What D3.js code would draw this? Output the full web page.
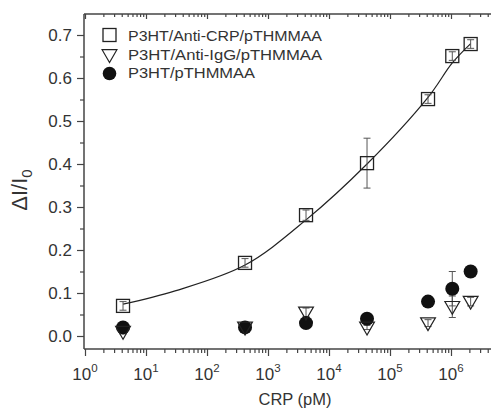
<!DOCTYPE html>
<html><head><meta charset="utf-8">
<script src="https://cdn.jsdelivr.net/npm/d3@7"></script>
<style>body{margin:0;background:#fff}svg{display:block}text{font-family:"Liberation Sans",Arial,sans-serif;fill:#333}</style>
</head><body><svg id="c" width="491" height="411"></svg>
<script>
const conc = [4.2, 420, 4200, 42000, 420000, 1.05e6, 2.1e6];
const antiCRP = [0.070, 0.170, 0.281, 0.402, 0.551, 0.651, 0.679];
const antiCRPErr = [0.010, 0.010, 0.012, 0.058, 0.010, 0.010, 0.010];
const antiIgG = [0.010, 0.020, 0.055, 0.020, 0.030, 0.068, 0.080];
const antiIgGErr = [0.005, 0.005, 0.010, 0.005, 0.008, 0.025, 0.010];
const plain = [0.020, 0.020, 0.030, 0.040, 0.080, 0.110, 0.150];
const plainErr = [0.004, 0.004, 0.004, 0.004, 0.006, 0.040, 0.012];
const fitX = [4.2, 30, 420, 4200, 42000, 420000, 1.05e6, 2.1e6];
const fitY = [0.074, 0.105, 0.165, 0.270, 0.400, 0.555, 0.635, 0.680];
const yTicks = [0.0, 0.1, 0.2, 0.3, 0.4, 0.5, 0.6, 0.7];
const xExponents = [0, 1, 2, 3, 4, 5, 6, 7];
const xLabelExponents = [0, 1, 2, 3, 4, 5, 6];
const legendLabels = ["P3HT/Anti-CRP/pTHMMAA", "P3HT/Anti-IgG/pTHMMAA", "P3HT/pTHMMAA"];

const svg = d3.select("#c");
const L = 84, T = 14, B = 349, R = 491;
const x = d3.scaleLog().domain([1, 1e7]).range([85, 85 + 61 * 7]);
const y = d3.scaleLinear().domain([0, 0.7]).range([336, 35]);
const axisCol = "#444";

svg.append("line").attr("x1", L).attr("x2", L).attr("y1", T).attr("y2", B).attr("stroke", axisCol).attr("stroke-width", 1.5);
svg.append("line").attr("x1", L).attr("x2", R).attr("y1", B).attr("y2", B).attr("stroke", axisCol).attr("stroke-width", 1.5);
svg.append("line").attr("x1", L).attr("x2", R).attr("y1", T).attr("y2", T).attr("stroke", axisCol).attr("stroke-width", 1.5);

const yMinor = d3.range(0, 0.75, 0.05).filter(v => Math.abs(v * 10 - Math.round(v * 10)) > 0.01);
const gy = svg.append("g").attr("transform", `translate(${L},0)`)
  .call(d3.axisLeft(y).tickValues(yTicks).tickSize(7).tickFormat(d3.format(".1f")));
gy.select(".domain").remove();
gy.selectAll("line").attr("stroke", axisCol).attr("stroke-width", 1.2);
gy.selectAll("text").attr("font-size", 17).attr("fill", "#333").attr("dx", -2);
const gym = svg.append("g").attr("transform", `translate(${L},0)`)
  .call(d3.axisLeft(y).tickValues(yMinor).tickSize(4).tickFormat(""));
gym.select(".domain").remove();
gym.selectAll("line").attr("stroke", axisCol).attr("stroke-width", 1.2);

const majors = xExponents.map(e => Math.pow(10, e));
const minors = [];
xExponents.forEach(e => { for (let k = 2; k <= 9; k++) minors.push(k * Math.pow(10, e)); });
function xTicks(yPos, vals, size) {
  const g = svg.append("g").attr("transform", `translate(0,${yPos})`)
    .call(d3.axisBottom(x).tickValues(vals).tickSize(size).tickFormat(""));
  g.select(".domain").remove();
  g.selectAll("line").attr("stroke", axisCol).attr("stroke-width", 1.2);
}
xTicks(B, majors, 7);
xTicks(B, minors, 4);
xTicks(T, majors, 5);
xTicks(T, minors, 3);

xLabelExponents.forEach(e => {
  const t = svg.append("text").attr("x", x(Math.pow(10, e))).attr("y", 380).attr("text-anchor", "middle").attr("font-size", 17);
  t.append("tspan").text("10");
  t.append("tspan").attr("dy", -8).attr("font-size", 11.5).text(e);
});

svg.append("text").attr("x", 295).attr("y", 405).attr("text-anchor", "middle").attr("font-size", 16.5).text("CRP (pM)");
const yl = svg.append("text").attr("transform", "translate(27,190) rotate(-90)").attr("text-anchor", "middle").attr("font-size", 22);
yl.append("tspan").text("ΔI/I");
yl.append("tspan").attr("dy", 5).attr("font-size", 15).text("0");

const pts = fitX.map((v, i) => [x(v), y(fitY[i])]);
svg.append("path").attr("d", d3.line().curve(d3.curveCatmullRom.alpha(0.5))(pts))
  .attr("fill", "none").attr("stroke", "#222").attr("stroke-width", 1.2);

function errBars(vals, errs) {
  conc.forEach((c, i) => {
    const cx = x(c), y1 = y(vals[i] + errs[i]), y2 = y(vals[i] - errs[i]);
    svg.append("line").attr("x1", cx).attr("x2", cx).attr("y1", y1).attr("y2", y2).attr("stroke", "#555").attr("stroke-width", 1);
    [y1, y2].forEach(yy => svg.append("line").attr("x1", cx - 3.5).attr("x2", cx + 3.5).attr("y1", yy).attr("y2", yy).attr("stroke", "#555").attr("stroke-width", 1));
  });
}
errBars(plain, plainErr);
errBars(antiIgG, antiIgGErr);
errBars(antiCRP, antiCRPErr);

const tri = d3.symbol().type(d3.symbolTriangle).size(95);
conc.forEach((c, i) => {
  svg.append("circle").attr("cx", x(c)).attr("cy", y(plain[i])).attr("r", 7).attr("fill", "#111");
});
conc.forEach((c, i) => {
  svg.append("path").attr("d", tri).attr("transform", `translate(${x(c)},${y(antiIgG[i]) - 1}) rotate(180)`)
    .attr("fill", "none").attr("stroke", "#222").attr("stroke-width", 1.2);
});
conc.forEach((c, i) => {
  svg.append("rect").attr("x", x(c) - 6.5).attr("y", y(antiCRP[i]) - 6.5).attr("width", 13).attr("height", 13)
    .attr("fill", "none").attr("stroke", "#222").attr("stroke-width", 1.3);
});

const lmY = [35, 55, 73.5];
const ltY = [41, 59.5, 78];
const lw = [194, 194, 127];
svg.append("rect").attr("x", 103).attr("y", lmY[0] - 6.5).attr("width", 13).attr("height", 13).attr("fill", "none").attr("stroke", "#222").attr("stroke-width", 1.3);
svg.append("path").attr("d", tri).attr("transform", `translate(109.5,${lmY[1] - 1}) rotate(180)`).attr("fill", "none").attr("stroke", "#222").attr("stroke-width", 1.2);
svg.append("circle").attr("cx", 109.5).attr("cy", lmY[2]).attr("r", 6.8).attr("fill", "#111");
legendLabels.forEach((s, i) => svg.append("text").attr("x", 128).attr("y", ltY[i]).attr("font-size", 14)
  .attr("textLength", lw[i]).attr("lengthAdjust", "spacingAndGlyphs").text(s));
</script></body></html>
